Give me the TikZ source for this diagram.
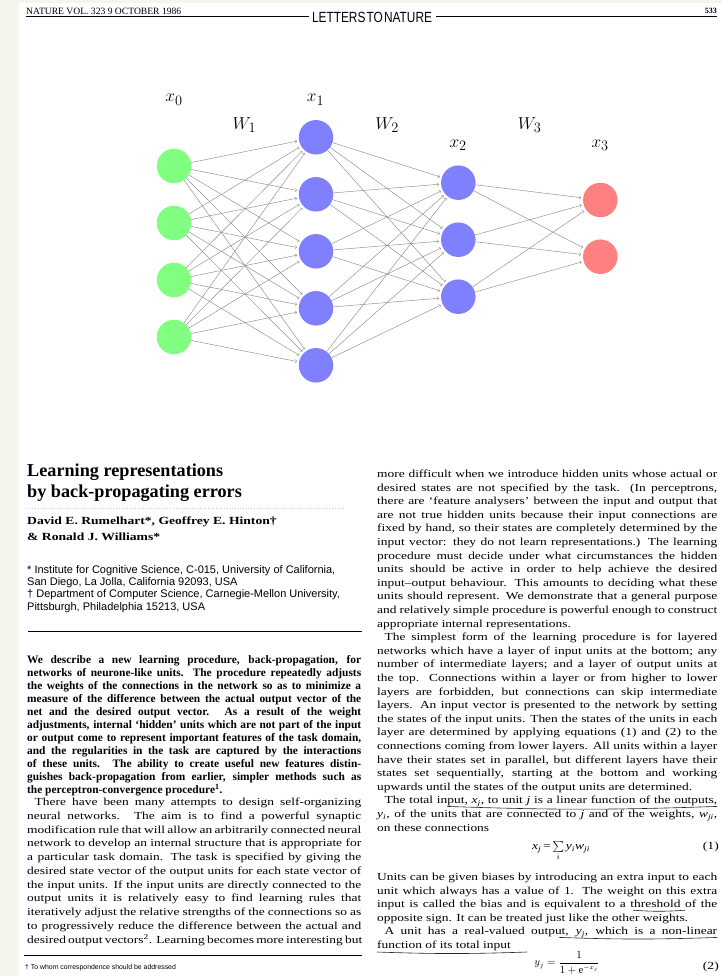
\documentclass[tikz,border=0pt]{standalone}
\usepackage{fontspec}
\setmainfont{Liberation Serif}
\setsansfont{Liberation Sans}
\newfontfamily\bodyfont{Liberation Serif}[FakeStretch=1.25,Ligatures=TeX]
\usepackage{amsmath,amssymb}
\usepackage{graphicx}
\usepackage{tikz}
\usetikzlibrary{positioning}
\definecolor{scan}{RGB}{245,245,238}
\newcommand{\jl}[1]{\makebox[334pt][s]{#1}}
\newcommand{\jr}[1]{\makebox[340pt][s]{#1}}
\newcommand{\vsub}[2]{\textit{#1}\textsubscript{\textit{#2}}}

\begin{document}
\begin{tikzpicture}[%
    x=1pt, y=-1pt,
    unit/.style={circle, minimum size=34.5pt, inner sep=0pt},
    conn/.style={->, draw=black!45, line width=0.45pt, shorten >=2pt},
    lbl/.style={anchor=base, inner sep=0pt, font=\fontsize{19}{23}\selectfont},
    bodytxt/.style={anchor=base west, inner sep=0pt, font=\bodyfont\fontsize{10.75}{13}\selectfont},
    abstxt/.style={anchor=base west, inner sep=0pt, font=\fontsize{11.4}{13}\selectfont\bfseries},
    afftxt/.style={anchor=base west, inner sep=0pt, font=\sffamily\fontsize{11}{12}\selectfont},
    rulestyle/.style={line width=0.8pt},
    penmark/.style={line width=0.6pt, black!85}
  ]
  \fill[white] (0,0) rectangle (722,976);
  \useasboundingbox (0,0) rectangle (722,976);
  \fill[scan] (0,0) rectangle (19,976);
  \fill[scan] (19,0) rectangle (722,3);

  % running head
  \node[anchor=base west, inner sep=0pt, font=\fontsize{9.6}{10}\selectfont] (hdleft) at (26,14.5) {NATURE VOL. 323 9 OCTOBER 1986};
  \node[anchor=base, inner sep=0pt] (hdmid) at (372,22.5) {\resizebox{120pt}{10.3pt}{\sffamily LETTERS\hspace{0.1em}TO\hspace{0.1em}NATURE}};
  \node[anchor=base east, inner sep=0pt, font=\fontsize{8}{9}\selectfont\bfseries] (hdpage) at (717,13.5) {533};
  \draw[rulestyle] (26,16.5) -- (309,16.5);
  \draw[rulestyle] (436,16.5) -- (717,16.5);

  % the network
  \foreach \y [count=\i] in {166,223,280,337}
    \node[unit, fill=green!50] (in\i) at (174,\y) {};
  \foreach \y [count=\i] in {137.3,194.3,251.3,308.3,365.3}
    \node[unit, fill=blue!50] (hA\i) at (316,\y) {};
  \foreach \y [count=\i] in {182.7,239.7,296.7}
    \node[unit, fill=blue!50] (hB\i) at (458.3,\y) {};
  \foreach \y [count=\i] in {200,256.7}
    \node[unit, fill=red!50] (out\i) at (600.3,\y) {};

  \foreach \i in {1,...,4}
    \foreach \j in {1,...,5}
      \draw[conn] (in\i) -- (hA\j);
  \foreach \i in {1,...,5}
    \foreach \j in {1,...,3}
      \draw[conn] (hA\i) -- (hB\j);
  \foreach \i in {1,...,3}
    \foreach \j in {1,2}
      \draw[conn] (hB\i) -- (out\j);

  \node[lbl] (lx0) at (174,101.7) {$x_0$};
  \node[lbl] (lx1) at (315.5,101.7) {$x_1$};
  \node[lbl] (lx2) at (458.2,147.3) {$x_2$};
  \node[lbl] (lx3) at (600.2,147.3) {$x_3$};
  \node[lbl] (lw1) at (244.5,129.3) {$W_1$};
  \node[lbl] (lw2) at (387.2,129.3) {$W_2$};
  \node[lbl] (lw3) at (529.7,129.3) {$W_3$};

  % title block
  \node[anchor=base west, inner sep=0pt, font=\fontsize{18.2}{21}\selectfont\bfseries] (ttl1) at (27,476.7) {Learning representations};
  \node[anchor=base west, inner sep=0pt, font=\fontsize{18.2}{21}\selectfont\bfseries] (ttl2) at (27,497.7) {by back-propagating errors};
  \draw[gray!40, dotted, line width=0.7pt] (27,508.3) -- (345,508.3);
  \node[anchor=base west, inner sep=0pt, font=\bodyfont\fontsize{10.9}{14}\selectfont\bfseries] (au1) at (27,524.5) {David E. Rumelhart*, Geoffrey E. Hinton\textdagger};
  \node[anchor=base west, inner sep=0pt, font=\bodyfont\fontsize{10.9}{14}\selectfont\bfseries] (au2) at (27,540) {\& Ronald J. Williams*};
  \foreach \ltext [count=\k] in {%
      {* Institute for Cognitive Science, C-015, University of California,},
      {San Diego, La Jolla, California 92093, USA},
      {\textdagger{} Department of Computer Science, Carnegie-Mellon University,},
      {Pittsburgh, Philadelphia 15213, USA}}
    \node[afftxt] (af\k) at (27,{573.5+(\k-1)*12.2}) {\ltext};
  \draw[rulestyle] (28,631) -- (362,631);

  % abstract
  \foreach \ltext [count=\k] in {%
      {We describe a new learning procedure, back-propagation, for},
      {networks of neurone-like units. The procedure repeatedly adjusts},
      {the weights of the connections in the network so as to minimize a},
      {measure of the difference between the actual output vector of the},
      {net and the desired output vector. As a result of the weight},
      {adjustments, internal `hidden' units which are not part of the input},
      {or output come to represent important features of the task domain,},
      {and the regularities in the task are captured by the interactions},
      {of these units. The ability to create useful new features distin-},
      {guishes back-propagation from earlier, simpler methods such as},
      {the perceptron-convergence procedure\textsuperscript{1}.\hfill}}
    \node[abstxt] (ab\k) at (27,{663.5+(\k-1)*13}) {\jl{\ltext}};

  % left column text
  \foreach \ltext [count=\k] in {%
      {\hspace*{7.5pt}There have been many attempts to design self-organizing},
      {neural networks. The aim is to find a powerful synaptic},
      {modification rule that will allow an arbitrarily connected neural},
      {network to develop an internal structure that is appropriate for},
      {a particular task domain. The task is specified by giving the},
      {desired state vector of the output units for each state vector of},
      {the input units. If the input units are directly connected to the},
      {output units it is relatively easy to find learning rules that},
      {iteratively adjust the relative strengths of the connections so as},
      {to progressively reduce the difference between the actual and},
      {desired output vectors\textsuperscript{2}. Learning becomes more interesting but}}
    \node[bodytxt] (lc\k) at (27,{805.5+(\k-1)*13.75}) {\jl{\ltext}};
  \draw[rulestyle] (24,955) -- (362,955);
  \node[anchor=base west, inner sep=0pt, font=\sffamily\fontsize{6.9}{8}\selectfont] (fn) at (25,969.5) {\textdagger{} To whom correspondence should be addressed};

  % right column text
  \foreach \ltext [count=\k] in {%
      {more difficult when we introduce hidden units whose actual or},
      {desired states are not specified by the task. (In perceptrons,},
      {there are `feature analysers' between the input and output that},
      {are not true hidden units because their input connections are},
      {fixed by hand, so their states are completely determined by the},
      {input vector: they do not learn representations.) The learning},
      {procedure must decide under what circumstances the hidden},
      {units should be active in order to help achieve the desired},
      {input--output behaviour. This amounts to deciding what these},
      {units should represent. We demonstrate that a general purpose},
      {and relatively simple procedure is powerful enough to construct},
      {appropriate internal representations.\hfill},
      {\hspace*{7.5pt}The simplest form of the learning procedure is for layered},
      {networks which have a layer of input units at the bottom; any},
      {number of intermediate layers; and a layer of output units at},
      {the top. Connections within a layer or from higher to lower},
      {layers are forbidden, but connections can skip intermediate},
      {layers. An input vector is presented to the network by setting},
      {the states of the input units. Then the states of the units in each},
      {layer are determined by applying equations (1) and (2) to the},
      {connections coming from lower layers. All units within a layer},
      {have their states set in parallel, but different layers have their},
      {states set sequentially, starting at the bottom and working},
      {upwards until the states of the output units are determined.\hfill},
      {\hspace*{7.5pt}The total input, \vsub{x}{j}, to unit \textit{j} is a linear function of the outputs,},
      {\vsub{y}{i}, of the units that are connected to \textit{j} and of the weights, \vsub{w}{ji},},
      {on these connections\hfill}}
    \node[bodytxt] (rc\k) at (377,{477.5+(\k-1)*13.6}) {\jr{\ltext}};
  \node[anchor=base, inner sep=0pt, font=\bodyfont\fontsize{10.9}{13}\selectfont] (eq1) at (561,849.5) {\vsub{x}{j}\,=\,$\sum\limits_i$\,\vsub{y}{i}\vsub{w}{ji}};
  \node[anchor=base east, inner sep=0pt, font=\bodyfont\fontsize{10.9}{13}\selectfont] (eqn1) at (719,849.5) {(1)};
  \foreach \ltext [count=\k] in {%
      {Units can be given biases by introducing an extra input to each},
      {unit which always has a value of 1. The weight on this extra},
      {input is called the bias and is equivalent to a threshold of the},
      {opposite sign. It can be treated just like the other weights.\hfill},
      {\hspace*{7.5pt}A unit has a real-valued output, \vsub{y}{j}, which is a non-linear},
      {function of its total input\hfill}}
    \node[bodytxt] (rd\k) at (377,{880.5+(\k-1)*13.6}) {\jr{\ltext}};
  \node[anchor=base, inner sep=0pt, font=\bodyfont\fontsize{10.6}{13}\selectfont] (eq2) at (567,965.5) {$\displaystyle y_j=\frac{1}{1+\mathrm{e}^{-x_j}}$};
  \node[anchor=base east, inner sep=0pt, font=\bodyfont\fontsize{10.9}{13}\selectfont] (eqn2) at (719,969) {(2)};

  % pen marks under the text
  \draw[penmark] ([xshift=70pt,yshift=-2.5pt]rc25.base west) to[bend right=2] ([yshift=-2.5pt]rc25.base east);
  \draw[penmark] ([xshift=256pt,yshift=-2.5pt]rd3.base west) to[bend right=4] ([xshift=308pt,yshift=-2.5pt]rd3.base west);
  \draw[penmark] ([xshift=182pt,yshift=-2.5pt]rd5.base west) to[bend right=2] ([yshift=-2.5pt]rd5.base east);
  \draw[penmark] ([yshift=-3.5pt]rd6.base west) to[bend right=2] ([xshift=150pt,yshift=-3.5pt]rd6.base west);
\end{tikzpicture}
\end{document}
